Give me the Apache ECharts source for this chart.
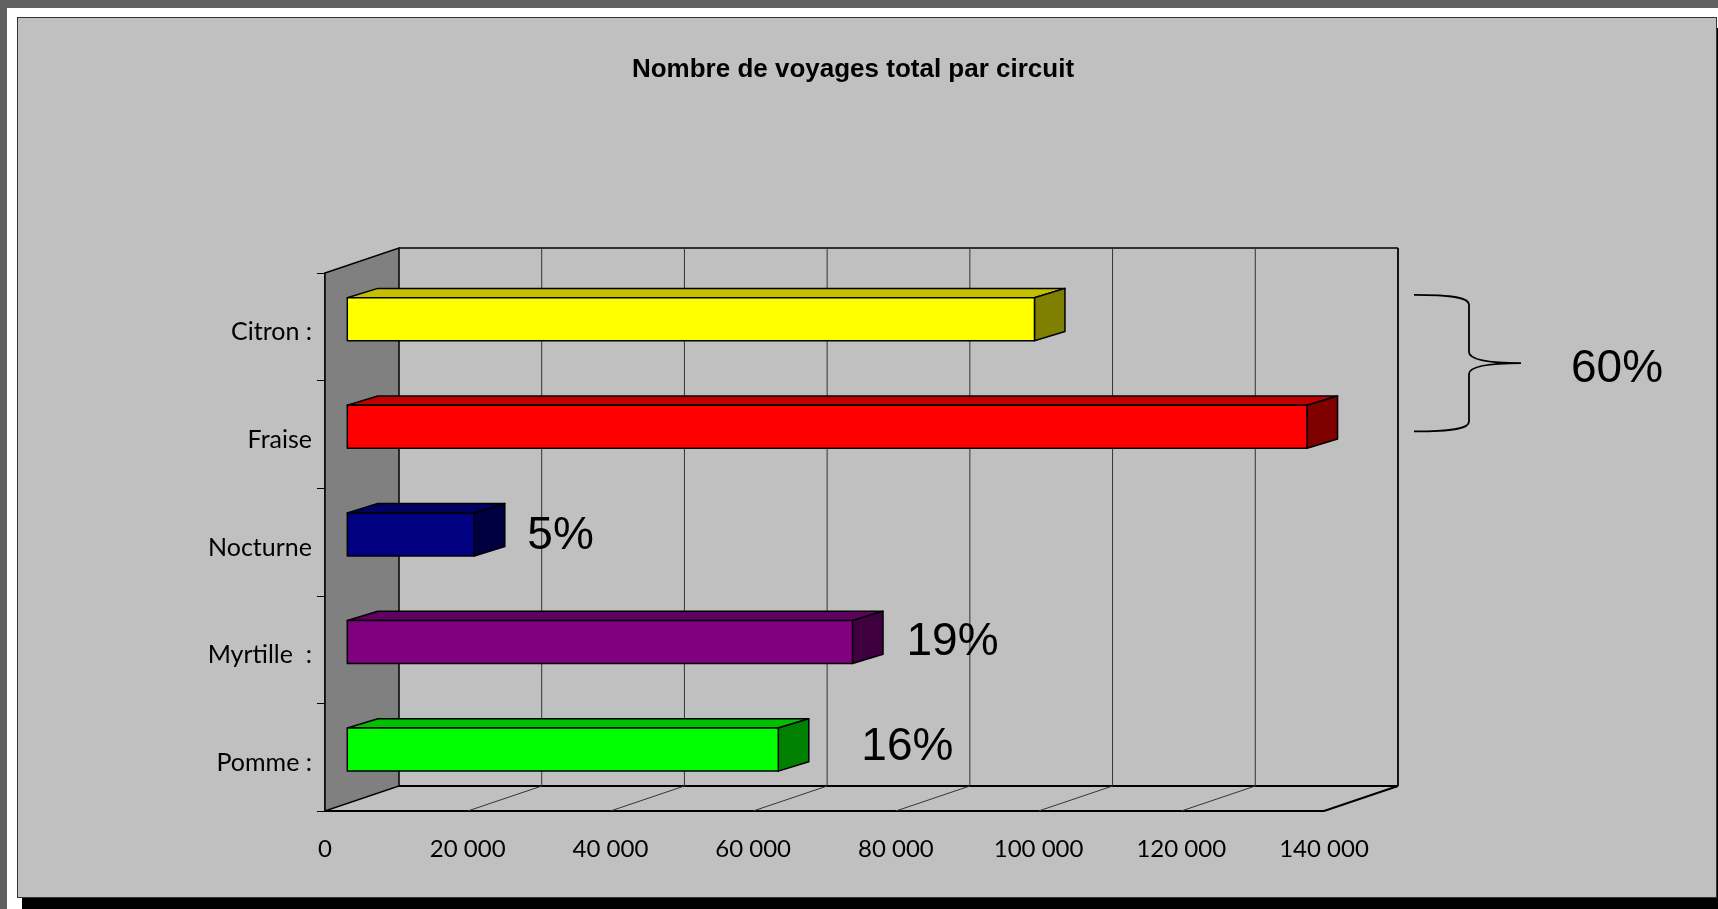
<!DOCTYPE html>
<html>
<head>
<meta charset="utf-8">
<script src="https://cdn.jsdelivr.net/npm/echarts@6/dist/echarts.min.js"></script>
<style>
    html, body { margin: 0; padding: 0; width: 1718px; height: 909px; overflow: hidden; background: #606060; }
    #sheet { position: absolute; left: 7px; top: 8px; right: 0; bottom: 0; background: #fff; }
    #panel { position: absolute; left: 17px; top: 17px; width: 1700px; height: 881px; box-sizing: border-box;
             background: #c0c0c0; border: 1.5px solid #333; box-shadow: 5px 11px 0 #000; }
    #chart { position: absolute; left: 0; top: 0; width: 1718px; height: 909px; }
</style>
</head>
<body>
<div id="sheet"></div>
<div id="panel"></div>
<div id="chart"></div>
<script>
    // données (de bas en haut sur l'axe des catégories)
    var categories = ['Pomme :', 'Myrtille  :', 'Nocturne', 'Fraise', 'Citron :'];
    var voyages = [60400, 70800, 17800, 134500, 96300];
    var pctLabels = ['16%', '19%', '5%', '', ''];
    var groupCats = [3, 4];      // Fraise + Citron
    var groupLabel = '60%';
    var xTicks = [0, 20000, 40000, 60000, 80000, 100000, 120000, 140000];

    // couleurs : face avant, dessus, côté
    var faceColors = ['#00ff00', '#800080', '#000080', '#ff0000', '#ffff00'];
    var topColors  = ['#00c000', '#600060', '#000060', '#c00000', '#c4c000'];
    var sideColors = ['#008000', '#400040', '#000040', '#800000', '#808000'];

    // effet 3D (décalages en pixels)
    var DEPTH = [74, -25];          // plan avant -> mur du fond
    var BAR_FRONT = [22.3, -7.6];   // face avant des barres
    var BAR_DEPTH = [30.5, -9.3];   // profondeur des barres
    var labelNudge = [[83, -9.5], [54, -7.5], [53, -5.5]];

    var LABEL_FONT = 'Lato, sans-serif';
    var ARIAL = '"Liberation Sans", Arial, sans-serif';

    function line(x1, y1, x2, y2, color, w) {
        return { type: 'line', shape: { x1: x1, y1: y1, x2: x2, y2: y2 }, style: { stroke: color, lineWidth: w } };
    }

    function renderFrame(params, api) {
        var cs = params.coordSys;
        var x = api.coord([api.value(0), 0])[0];
        var top = cs.y, bot = cs.y + cs.height, left = cs.x, right = cs.x + cs.width;
        var dx = DEPTH[0], dy = DEPTH[1];
        var last = params.dataIndex === xTicks.length - 1;
        var children = [];
        if (params.dataIndex === 0) {
            // mur de gauche
            children.push({
                type: 'polygon',
                shape: { points: [[left, top], [left + dx, top + dy], [left + dx, bot + dy], [left, bot]] },
                style: { fill: '#808080', stroke: '#000', lineWidth: 1.5 }
            });
            children.push(line(left + dx, top + dy, right + dx, top + dy, '#000', 1.5));
            children.push(line(left + dx, bot + dy, right + dx, bot + dy, '#000', 2));
            children.push(line(left, bot, right, bot, '#000', 2));
        } else {
            children.push(line(x + dx, top + dy, x + dx, bot + dy, last ? '#000' : '#333', last ? 1.8 : 1));
            children.push(line(x, bot, x + dx, bot + dy, last ? '#000' : '#333', last ? 2 : 1));
        }
        return { type: 'group', children: children };
    }

    function renderBar(params, api) {
        var i = params.dataIndex;
        var s = api.coord([0, i]);
        var e = api.coord([api.value(0), i]);
        var h = api.size([0, 1])[1] * 0.4;
        var x0 = s[0] + BAR_FRONT[0], x1 = e[0] + BAR_FRONT[0];
        var y0 = s[1] + BAR_FRONT[1] - h / 2, y1 = y0 + h;
        var bx = BAR_DEPTH[0], by = BAR_DEPTH[1];
        var edge = { stroke: '#000', lineWidth: 1.5, lineJoin: 'round' };
        var children = [
            { type: 'polygon', shape: { points: [[x0, y0], [x0 + bx, y0 + by], [x1 + bx, y0 + by], [x1, y0]] },
              style: Object.assign({ fill: topColors[i] }, edge) },
            { type: 'polygon', shape: { points: [[x1, y0], [x1 + bx, y0 + by], [x1 + bx, y1 + by], [x1, y1]] },
              style: Object.assign({ fill: sideColors[i] }, edge) },
            { type: 'rect', shape: { x: x0, y: y0, width: x1 - x0, height: h },
              style: Object.assign({ fill: faceColors[i] }, edge) }
        ];
        if (pctLabels[i]) {
            children.push({
                type: 'text',
                x: x1 + labelNudge[i][0],
                y: s[1] + labelNudge[i][1],
                style: { text: pctLabels[i], fill: '#000', fontSize: 46, fontFamily: ARIAL,
                         align: 'left', verticalAlign: 'middle' }
            });
        }
        return { type: 'group', children: children };
    }

    function renderBrace(params, api) {
        var xmax = xTicks[xTicks.length - 1];
        var x0 = api.coord([xmax, 0])[0] + DEPTH[0] + 16;
        var top = api.coord([0, groupCats[1]])[1] - 32;
        var bot = api.coord([0, groupCats[0]])[1] - 3;
        var mid = (top + bot) / 2;
        var p = 'M' + x0 + ' ' + top +
            ' C' + (x0 + 40) + ' ' + top + ' ' + (x0 + 55) + ' ' + (top + 3) + ' ' + (x0 + 55) + ' ' + (top + 10) +
            ' L' + (x0 + 55) + ' ' + (mid - 11) +
            ' C' + (x0 + 55) + ' ' + (mid - 3) + ' ' + (x0 + 75) + ' ' + mid + ' ' + (x0 + 107) + ' ' + mid +
            ' M' + (x0 + 107) + ' ' + mid +
            ' C' + (x0 + 75) + ' ' + mid + ' ' + (x0 + 55) + ' ' + (mid + 3) + ' ' + (x0 + 55) + ' ' + (mid + 11) +
            ' L' + (x0 + 55) + ' ' + (bot - 10) +
            ' C' + (x0 + 55) + ' ' + (bot - 3) + ' ' + (x0 + 40) + ' ' + bot + ' ' + x0 + ' ' + bot;
        return {
            type: 'group',
            children: [
                { type: 'path', shape: { pathData: p }, style: { fill: null, stroke: '#000', lineWidth: 1.8 } },
                { type: 'text', x: x0 + 157, y: mid + 6.5,
                  style: { text: groupLabel, fill: '#000', fontSize: 46, fontFamily: ARIAL,
                           align: 'left', verticalAlign: 'middle' } }
            ]
        };
    }

    var chart = echarts.init(document.getElementById('chart'));
    var option = {
        animation: false,
        backgroundColor: 'transparent',
        graphic: [{
            type: 'text', x: 853, y: 70,
            style: { text: 'Nombre de voyages total par circuit', fill: '#000', fontSize: 26, fontWeight: 'bold',
                     fontFamily: ARIAL, align: 'center', verticalAlign: 'middle' }
        }],
        grid: { left: 325, top: 273, width: 999, height: 538 },
        xAxis: {
            type: 'value',
            min: xTicks[0],
            max: xTicks[xTicks.length - 1],
            interval: xTicks[1] - xTicks[0],
            axisLine: { show: false },
            axisTick: { show: false },
            splitLine: { show: false },
            axisLabel: {
                margin: 26,
                color: '#000',
                fontSize: 24,
                fontFamily: LABEL_FONT,
                formatter: function (v) { return String(v).replace(/\B(?=(\d{3})+(?!\d))/g, ' '); }
            }
        },
        yAxis: {
            type: 'category',
            data: categories,
            axisLine: { show: true, lineStyle: { color: '#000', width: 1.5 } },
            axisTick: { show: true, length: 8, lineStyle: { color: '#000', width: 1 } },
            splitLine: { show: false },
            axisLabel: {
                margin: 13,
                formatter: function (v) { return '{c|' + v + '}'; },
                rich: {
                    c: { color: '#000', fontSize: 25, fontFamily: LABEL_FONT, padding: [11, 0, 0, 0] }
                }
            }
        },
        series: [
            {
                type: 'custom', name: 'cadre', z: 1, clip: false, silent: true,
                renderItem: renderFrame,
                encode: { x: 0 },
                data: xTicks.map(function (t) { return [t, 0]; })
            },
            {
                type: 'custom', name: 'voyages', z: 2, clip: false,
                renderItem: renderBar,
                encode: { x: 0, y: 1 },
                data: voyages.map(function (v, i) { return [v, i]; })
            },
            {
                type: 'custom', name: 'groupe', z: 3, clip: false, silent: true,
                renderItem: renderBrace,
                encode: { x: 0, y: 1 },
                data: [[xTicks[xTicks.length - 1], groupCats[1]]]
            }
        ]
    };
    chart.setOption(option);
</script>
</body>
</html>
